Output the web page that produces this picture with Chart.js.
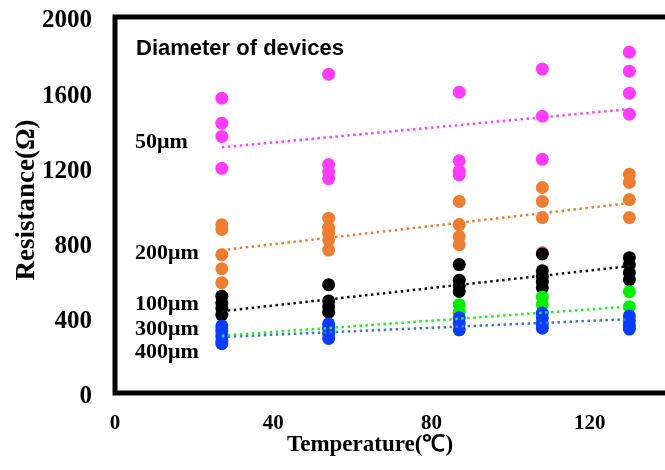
<!DOCTYPE html>
<html>
<head>
<meta charset="utf-8">
<script src="https://cdn.jsdelivr.net/npm/chart.js@4.4.1/dist/chart.umd.min.js"></script>
<style>
  html, body { margin: 0; padding: 0; background: #fff; overflow: hidden; }
  canvas { display: block; }
</style>
</head>
<body>
<canvas id="chart" width="665" height="470"></canvas>
<script>
// temperature steps (°C), as placed on the axis
const temps = [27, 54, 87, 108, 130];

// resistance readings (Ω), one inner array per temperature step
const r50 = [
  [1568, 1435, 1365, 1195],
  [1696, 1215, 1175, 1140],
  [1600, 1235, 1180, 1160],
  [1723, 1472, 1243],
  [1813, 1712, 1595, 1483],
];
const r200 = [
  [895, 870, 736, 661, 587],
  [930, 880, 850, 815, 760],
  [1019, 896, 832, 789],
  [1093, 1019, 933, 747],
  [1163, 1120, 1029, 933],
];
const r100 = [
  [515, 480, 450, 415],
  [576, 490, 460, 430],
  [683, 600, 570, 540],
  [740, 650, 620, 590, 560],
  [720, 683, 640, 603],
];
const r300 = [
  [340, 310],
  [350, 320],
  [470, 430],
  [510, 470],
  [539, 459],
];
const r400 = [
  [357, 330, 300, 275, 262],
  [368, 340, 315, 290],
  [400, 370, 336],
  [425, 400, 370, 345],
  [410, 385, 360, 340],
];

// linear trend ends (first step, last step)
const trend50 = [1307, 1510];
const trend200 = [760, 1010];
const trend100 = [435, 675];
const trend300 = [305, 460];
const trend400 = [298, 393];

const xTicks = [0, 40, 80, 120];
const yTicks = [0, 400, 800, 1200, 1600, 2000];

// diameter labels and the resistance level they sit at
const sizeLabels = ['50μm', '200μm', '100μm', '300μm', '400μm'];
const sizeLabelAt = [1344, 752, 480, 347, 229];

const serif = "'Liberation Serif', 'Times New Roman', serif";
const sans = "'Liberation Sans', Arial, sans-serif";

function points(rows) {
  const out = [];
  rows.forEach((vals, i) => vals.forEach((v) => out.push({ x: temps[i], y: v })));
  return out;
}

function trendPoints(ends) {
  return [{ x: temps[0], y: ends[0] }, { x: temps[temps.length - 1], y: ends[1] }];
}

function scatterSet(label, rows, color, order) {
  return {
    type: 'scatter',
    label,
    data: points(rows),
    backgroundColor: color,
    borderWidth: 0,
    pointRadius: 6.5,
    pointHoverRadius: 6.5,
    order,
  };
}

function trendSet(label, ends, color) {
  return {
    type: 'line',
    label,
    data: trendPoints(ends),
    borderColor: color,
    borderWidth: 2.5,
    borderDash: [2.5, 3.5],
    pointRadius: 0,
    fill: false,
    order: 0,
  };
}

const decor = {
  id: 'decor',
  afterDraw(chart) {
    const { ctx, chartArea: a, width } = chart;
    const y = chart.scales.y;
    ctx.save();
    // heavy frame: left, top and bottom; runs off the right edge
    ctx.strokeStyle = '#000';
    ctx.lineWidth = 5;
    ctx.beginPath();
    ctx.moveTo(width + 5, a.top);
    ctx.lineTo(a.left, a.top);
    ctx.lineTo(a.left, a.bottom);
    ctx.lineTo(width + 5, a.bottom);
    ctx.stroke();

    ctx.fillStyle = '#000';
    ctx.textBaseline = 'middle';
    ctx.textAlign = 'left';
    ctx.font = 'bold 22px ' + sans;
    ctx.fillText('Diameter of devices', a.left + 21, a.top + 32);

    ctx.font = 'bold 22px ' + serif;
    sizeLabels.forEach((t, i) => {
      ctx.fillText(t, a.left + 20, y.getPixelForValue(sizeLabelAt[i]) + 2);
    });

    // axis titles
    ctx.textAlign = 'center';
    ctx.font = 'bold 23px ' + serif;
    ctx.fillText('Temperature(℃)', a.left + 255, a.bottom + 52);
    ctx.translate(27, (a.top + a.bottom) / 2 - 5);
    ctx.rotate(-Math.PI / 2);
    ctx.font = 'bold 27px ' + serif;
    ctx.fillText('Resistance(Ω)', 0, 0);
    ctx.restore();
  },
};

new Chart(document.getElementById('chart'), {
  data: {
    datasets: [
      trendSet('50μm fit', trend50, '#ff44ff'),
      trendSet('200μm fit', trend200, '#ed7d31'),
      trendSet('100μm fit', trend100, '#111111'),
      trendSet('300μm fit', trend300, '#22ee22'),
      trendSet('400μm fit', trend400, '#4472c4'),
      scatterSet('400μm', r400, '#0a3cff', 1),
      scatterSet('300μm', r300, '#00ee00', 2),
      scatterSet('100μm', r100, '#000000', 3),
      scatterSet('200μm', r200, '#ed7d31', 4),
      scatterSet('50μm', r50, '#ff3cff', 5),
    ],
  },
  options: {
    responsive: false,
    animation: false,
    layout: { autoPadding: false, padding: { top: 17, left: 0, right: 0, bottom: 0 } },
    plugins: {
      legend: { display: false },
      tooltip: { enabled: false },
    },
    scales: {
      x: {
        type: 'linear',
        min: 0,
        max: 139,
        grid: { display: false, drawTicks: false },
        border: { display: false },
        afterBuildTicks: (s) => { s.ticks = xTicks.map((v) => ({ value: v })); },
        afterFit: (s) => {
          s.height = 77;
          s.paddingLeft = 0;
          s.paddingRight = 0;
        },
        ticks: {
          color: '#000',
          padding: 18,
          maxRotation: 0,
          callback: (v) => String(v),
          font: { family: serif, size: 21, weight: 'bold' },
        },
      },
      y: {
        min: 0,
        max: 2000,
        grid: { display: false, drawTicks: false },
        border: { display: false },
        afterBuildTicks: (s) => { s.ticks = yTicks.map((v) => ({ value: v })); },
        afterFit: (s) => {
          s.width = 115;
          s.paddingTop = 0;
          s.paddingBottom = 0;
        },
        ticks: {
          color: '#000',
          padding: 23,
          labelOffset: 4,
          callback: (v) => String(v),
          font: { family: serif, size: 25, weight: 'bold' },
        },
      },
    },
  },
  plugins: [decor],
});
</script>
</body>
</html>
